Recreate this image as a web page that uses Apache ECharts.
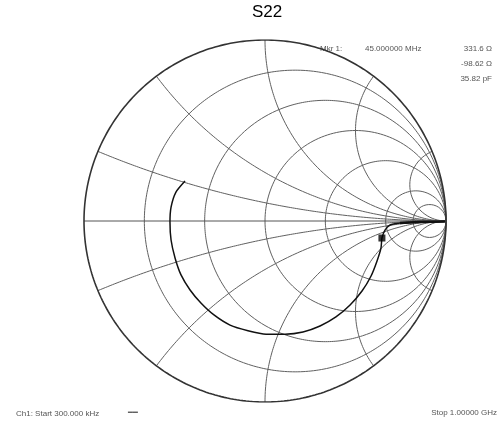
<!DOCTYPE html>
<html><head><meta charset="utf-8">
<script src="https://cdn.jsdelivr.net/npm/echarts@6/dist/echarts.min.js"></script>
<style>html,body{margin:0;padding:0;background:#fff}#c{width:499px;height:425px}</style>
</head><body><div id="c"></div>
<script>
// Smith chart grid values (normalized)
var resistanceCircles = [0.2, 0.5, 1, 2, 5, 10];
var reactanceArcs = [0.2, 0.5, 1, 2, 5, -0.2, -0.5, -1, -2, -5];
// S22 trace, reflection coefficient (re, im), in sweep order 300 kHz -> 1 GHz
var traceRe = [0.994, 0.930, 0.856, 0.800, 0.746, 0.691, 0.663, 0.646, 0.641, 0.619, 0.586, 0.536, 0.470, 0.392, 0.304, 0.210, 0.111, 0.006, -0.094, -0.193, -0.282, -0.354, -0.414, -0.464, -0.497, -0.519, -0.525, -0.519, -0.492, -0.442];
var traceIm = [-0.003, -0.004, -0.006, -0.008, -0.011, -0.022, -0.050, -0.094, -0.149, -0.221, -0.304, -0.387, -0.464, -0.530, -0.580, -0.613, -0.625, -0.625, -0.606, -0.575, -0.519, -0.453, -0.381, -0.298, -0.204, -0.105, -0.006, 0.077, 0.160, 0.221];
var markerRe = [0.646];
var markerIm = [-0.094];
var titleText = 'S22';
var markerLines = ['Mkr 1:', '45.000000 MHz', '331.6 Ω', '-98.62 Ω', '35.82 pF'];
var footerLeft = 'Ch1: Start 300.000 kHz';
var footerRight = 'Stop 1.00000 GHz';

function zToG(r, x) {
  var dr = r + 1, num = (r - 1);
  var den = dr * dr + x * x;
  return [(num * dr + x * x) / den, (x * dr - num * x) / den];
}
function rCircle(r) {
  var c = r / (r + 1), rad = 1 / (r + 1), pts = [];
  for (var i = 0; i <= 360; i++) { var a = i * Math.PI / 180; pts.push([c + rad * Math.cos(a), rad * Math.sin(a)]); }
  return pts;
}
function xArc(x) {
  var pts = [];
  for (var i = 0; i <= 400; i++) {
    var t = i / 400 * (Math.PI / 2 - 0.002);
    pts.push(zToG(Math.tan(t), x));
  }
  pts.push([1, 0]);
  return pts;
}
var series = [];
var gridStyle = { color: '#606060', width: 1 };
resistanceCircles.forEach(function (r) {
  series.push({ type: 'line', data: rCircle(r), showSymbol: false, silent: true, lineStyle: gridStyle, z: 1 });
});
reactanceArcs.forEach(function (x) {
  series.push({ type: 'line', data: xArc(x), showSymbol: false, silent: true, lineStyle: gridStyle, z: 1 });
});
series.push({ type: 'line', data: [[-1, 0], [1, 0]], showSymbol: false, silent: true, lineStyle: { color: '#555', width: 1 }, z: 1 });
series.push({ type: 'line', data: rCircle(0), showSymbol: false, silent: true, lineStyle: { color: '#333', width: 1.6 }, z: 2 });
var tracePts = traceRe.map(function (v, i) { return [v, traceIm[i]]; });
series.push({ type: 'line', data: tracePts, showSymbol: false, silent: true, smooth: 0.2, lineStyle: { color: '#111', width: 1.5 }, z: 3 });
series.push({ type: 'line', data: tracePts.slice(0, 5), showSymbol: false, silent: true, lineStyle: { color: '#111', width: 2.5 }, z: 3 });
series.push({ type: 'scatter', data: markerRe.map(function (v, i) { return [v, markerIm[i]]; }), symbol: 'rect', symbolSize: 7, itemStyle: { color: '#000' }, silent: true, z: 4 });

var txt = { fill: '#555', fontSize: 8, fontFamily: 'Liberation Sans, Arial, sans-serif' };
function t(x, y, s, align) { return { type: 'text', x: x, y: y, style: Object.assign({ text: s, align: align || 'left', verticalAlign: 'middle' }, txt) }; }
var chart = echarts.init(document.getElementById('c'));
chart.setOption({
  animation: false,
  backgroundColor: '#fff',
  grid: { left: 84, top: 40, width: 362, height: 362 },
  xAxis: { type: 'value', min: -1, max: 1, show: false },
  yAxis: { type: 'value', min: -1, max: 1, show: false },
  series: series,
  graphic: [
    { type: 'text', x: 267, y: 12, style: { text: titleText, align: 'center', verticalAlign: 'middle', fill: '#000', fontSize: 17, fontFamily: 'Liberation Sans, Arial, sans-serif' } },
    t(320, 49, markerLines[0]), t(365, 49, markerLines[1]), t(492, 49, markerLines[2], 'right'),
    t(492, 64, markerLines[3], 'right'), t(492, 79, markerLines[4], 'right'),
    t(16, 414, footerLeft), t(128, 413, '━━'), t(497, 413, footerRight, 'right')
  ]
});
</script></body></html>
